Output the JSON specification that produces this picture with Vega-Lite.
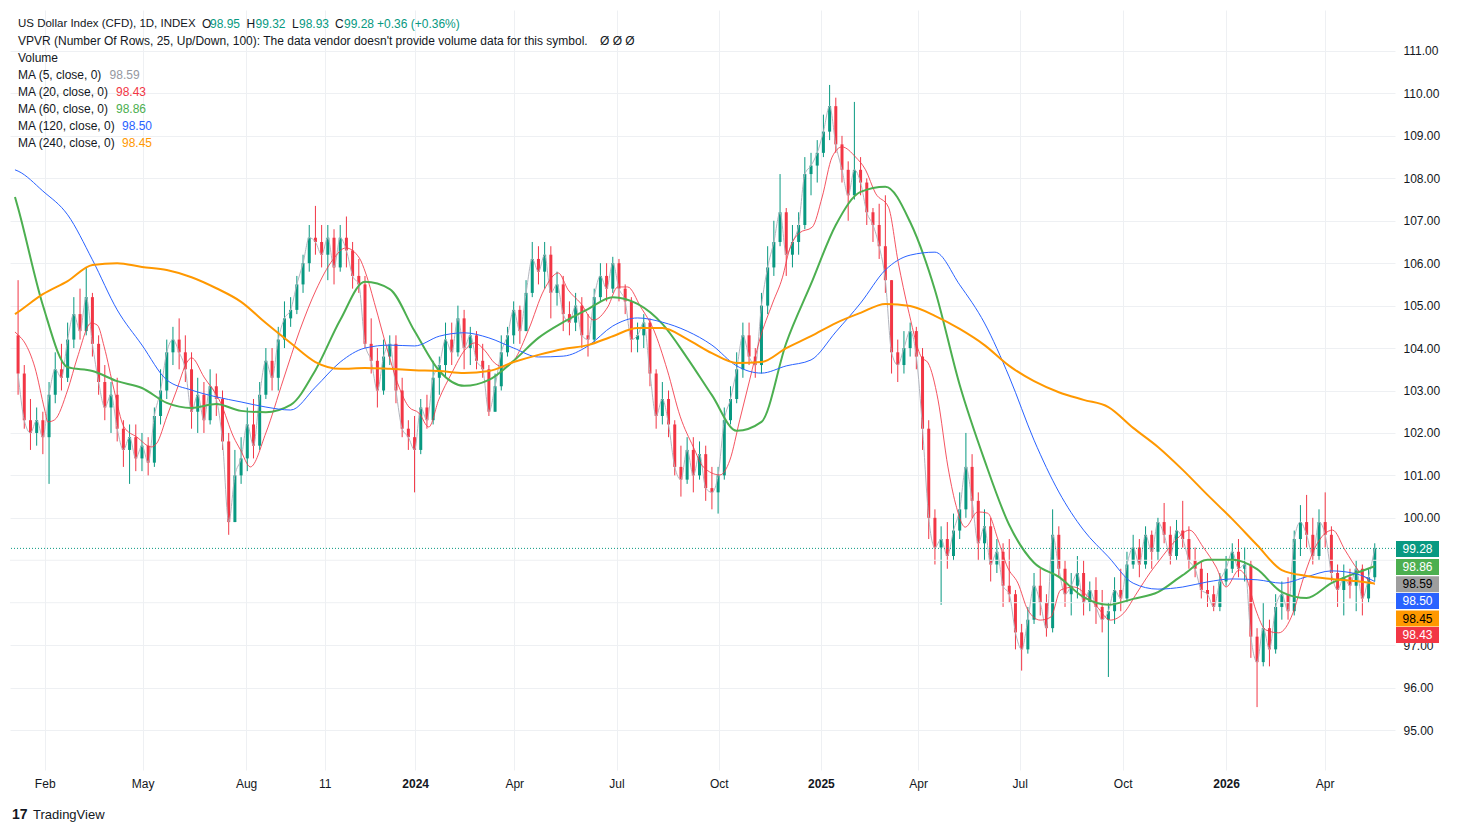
{
"$schema": "https://vega.github.io/schema/vega-lite/v6.json",
"width": 1385, "height": 760,
"autosize": "none",
"padding": {"left": 10, "top": 10, "right": 65, "bottom": 63},
"background": "#ffffff",
"config": {"view": {"stroke": null}, "font": "Liberation Sans"},
"datasets": {
"c": [
{"k":0,"o":104.3,"h":105.6,"l":102.9,"c":103.4},{"k":1,"o":103.4,"h":103.6,"l":102.1,"c":102.3},{"k":2,"o":102.3,"h":102.8,"l":101.6,"c":102.0},{"k":3,"o":102.0,"h":102.6,"l":101.7,"c":102.3},{"k":4,"o":102.3,"h":102.5,"l":101.5,"c":101.9},{"k":5,"o":101.9,"h":103.2,"l":100.8,"c":102.9},{"k":6,"o":102.9,"h":103.9,"l":102.7,"c":103.5},{"k":7,"o":103.5,"h":104.1,"l":103.0,"c":103.3},{"k":8,"o":103.3,"h":104.6,"l":103.2,"c":104.2},{"k":9,"o":104.2,"h":105.2,"l":104.0,"c":104.8},
{"k":10,"o":104.8,"h":105.4,"l":104.2,"c":104.4},{"k":11,"o":104.4,"h":105.9,"l":104.3,"c":105.2},{"k":12,"o":105.2,"h":105.3,"l":103.8,"c":104.1},{"k":13,"o":104.1,"h":104.3,"l":102.9,"c":103.2},{"k":14,"o":103.2,"h":103.6,"l":102.3,"c":102.6},{"k":15,"o":102.6,"h":103.2,"l":102.0,"c":102.9},{"k":16,"o":102.9,"h":103.3,"l":101.8,"c":102.1},{"k":17,"o":102.1,"h":102.3,"l":101.2,"c":101.6},{"k":18,"o":101.6,"h":102.2,"l":100.8,"c":101.9},{"k":19,"o":101.9,"h":102.2,"l":101.1,"c":101.4},
{"k":20,"o":101.4,"h":102.0,"l":101.1,"c":101.7},{"k":21,"o":101.7,"h":101.9,"l":101.0,"c":101.3},{"k":22,"o":101.3,"h":102.6,"l":101.2,"c":102.4},{"k":23,"o":102.4,"h":103.5,"l":102.2,"c":103.0},{"k":24,"o":103.0,"h":104.2,"l":102.8,"c":103.9},{"k":25,"o":103.9,"h":104.5,"l":103.6,"c":104.2},{"k":26,"o":104.2,"h":104.7,"l":103.5,"c":103.9},{"k":27,"o":103.9,"h":104.3,"l":103.2,"c":103.5},{"k":28,"o":103.5,"h":103.9,"l":102.1,"c":102.5},{"k":29,"o":102.5,"h":103.3,"l":102.0,"c":102.9},
{"k":30,"o":102.9,"h":103.2,"l":102.0,"c":102.3},{"k":31,"o":102.3,"h":103.5,"l":102.2,"c":103.1},{"k":32,"o":103.1,"h":103.4,"l":102.4,"c":102.8},{"k":33,"o":102.8,"h":103.0,"l":101.6,"c":101.8},{"k":34,"o":101.8,"h":102.0,"l":99.6,"c":99.9},{"k":35,"o":99.9,"h":101.6,"l":99.9,"c":101.0},{"k":36,"o":101.0,"h":101.9,"l":100.8,"c":101.4},{"k":37,"o":101.4,"h":102.6,"l":101.1,"c":102.2},{"k":38,"o":102.2,"h":102.8,"l":101.4,"c":101.7},{"k":39,"o":101.7,"h":103.2,"l":101.6,"c":102.9},
{"k":40,"o":102.9,"h":104.0,"l":102.8,"c":103.7},{"k":41,"o":103.7,"h":104.0,"l":103.0,"c":103.3},{"k":42,"o":103.3,"h":104.5,"l":103.0,"c":104.2},{"k":43,"o":104.2,"h":105.1,"l":104.0,"c":104.7},{"k":44,"o":104.7,"h":105.2,"l":104.5,"c":104.9},{"k":45,"o":104.9,"h":105.7,"l":104.8,"c":105.5},{"k":46,"o":105.5,"h":106.2,"l":105.3,"c":106.0},{"k":47,"o":106.0,"h":106.9,"l":105.8,"c":106.6},{"k":48,"o":106.6,"h":107.35,"l":106.2,"c":106.5},{"k":49,"o":106.5,"h":106.9,"l":105.9,"c":106.2},
{"k":50,"o":106.2,"h":106.9,"l":105.6,"c":106.6},{"k":51,"o":106.6,"h":106.8,"l":105.5,"c":105.9},{"k":52,"o":105.9,"h":106.9,"l":105.8,"c":106.6},{"k":53,"o":106.6,"h":107.1,"l":105.9,"c":106.3},{"k":54,"o":106.3,"h":106.5,"l":105.4,"c":105.7},{"k":55,"o":105.7,"h":106.1,"l":105.3,"c":105.5},{"k":56,"o":105.5,"h":105.7,"l":104.0,"c":104.1},{"k":57,"o":104.1,"h":104.7,"l":103.4,"c":103.7},{"k":58,"o":103.7,"h":104.0,"l":102.6,"c":103.0},{"k":59,"o":103.0,"h":104.2,"l":102.9,"c":103.8},
{"k":60,"o":103.8,"h":104.3,"l":103.6,"c":104.1},{"k":61,"o":104.1,"h":104.3,"l":102.7,"c":103.0},{"k":62,"o":103.0,"h":103.3,"l":101.9,"c":102.1},{"k":63,"o":102.1,"h":102.3,"l":101.6,"c":101.9},{"k":64,"o":101.9,"h":102.4,"l":100.6,"c":101.6},{"k":65,"o":101.6,"h":102.8,"l":101.5,"c":102.6},{"k":66,"o":102.6,"h":102.9,"l":102.1,"c":102.3},{"k":67,"o":102.3,"h":103.7,"l":102.2,"c":103.3},{"k":68,"o":103.3,"h":103.8,"l":102.9,"c":103.6},{"k":69,"o":103.6,"h":104.6,"l":103.3,"c":104.2},
{"k":70,"o":104.2,"h":104.6,"l":103.6,"c":103.9},{"k":71,"o":103.9,"h":105.0,"l":103.8,"c":104.7},{"k":72,"o":104.7,"h":104.9,"l":103.5,"c":104.0},{"k":73,"o":104.0,"h":104.5,"l":103.6,"c":104.3},{"k":74,"o":104.3,"h":104.4,"l":103.5,"c":103.7},{"k":75,"o":103.7,"h":104.1,"l":103.3,"c":103.5},{"k":76,"o":103.5,"h":103.6,"l":102.4,"c":102.5},{"k":77,"o":102.5,"h":103.4,"l":102.5,"c":103.1},{"k":78,"o":103.1,"h":104.3,"l":103.0,"c":103.9},{"k":79,"o":103.9,"h":104.5,"l":103.8,"c":104.3},
{"k":80,"o":104.3,"h":105.1,"l":104.1,"c":104.9},{"k":81,"o":104.9,"h":105.0,"l":104.1,"c":104.4},{"k":82,"o":104.4,"h":105.6,"l":104.4,"c":105.3},{"k":83,"o":105.3,"h":106.5,"l":105.2,"c":106.1},{"k":84,"o":106.1,"h":106.4,"l":105.5,"c":105.8},{"k":85,"o":105.8,"h":106.5,"l":105.4,"c":106.2},{"k":86,"o":106.2,"h":106.4,"l":104.7,"c":105.3},{"k":87,"o":105.3,"h":105.8,"l":105.0,"c":105.5},{"k":88,"o":105.5,"h":105.7,"l":104.4,"c":104.8},{"k":89,"o":104.8,"h":105.1,"l":104.3,"c":104.6},
{"k":90,"o":104.6,"h":105.3,"l":104.4,"c":105.0},{"k":91,"o":105.0,"h":105.2,"l":104.0,"c":104.3},{"k":92,"o":104.3,"h":104.8,"l":103.8,"c":104.2},{"k":93,"o":104.2,"h":105.4,"l":104.1,"c":105.2},{"k":94,"o":105.2,"h":106.0,"l":105.1,"c":105.7},{"k":95,"o":105.7,"h":106.0,"l":105.1,"c":105.4},{"k":96,"o":105.4,"h":106.15,"l":105.3,"c":106.0},{"k":97,"o":106.0,"h":106.1,"l":105.1,"c":105.4},{"k":98,"o":105.4,"h":105.5,"l":104.8,"c":105.1},{"k":99,"o":105.1,"h":105.2,"l":103.9,"c":104.2},
{"k":100,"o":104.2,"h":104.6,"l":103.9,"c":104.3},{"k":101,"o":104.3,"h":104.8,"l":104.0,"c":104.6},{"k":102,"o":104.6,"h":104.7,"l":103.1,"c":103.4},{"k":103,"o":103.4,"h":103.5,"l":102.1,"c":102.4},{"k":104,"o":102.4,"h":103.2,"l":102.2,"c":102.8},{"k":105,"o":102.8,"h":103.0,"l":101.9,"c":102.2},{"k":106,"o":102.2,"h":102.3,"l":101.0,"c":101.2},{"k":107,"o":101.2,"h":101.7,"l":100.5,"c":100.9},{"k":108,"o":100.9,"h":101.9,"l":100.8,"c":101.6},{"k":109,"o":101.6,"h":101.9,"l":100.6,"c":101.0},
{"k":110,"o":101.0,"h":101.8,"l":100.9,"c":101.5},{"k":111,"o":101.5,"h":101.7,"l":100.4,"c":100.7},{"k":112,"o":100.7,"h":101.2,"l":100.2,"c":100.6},{"k":113,"o":100.6,"h":101.2,"l":100.1,"c":101.0},{"k":114,"o":101.0,"h":102.6,"l":100.9,"c":102.3},{"k":115,"o":102.3,"h":103.1,"l":102.2,"c":102.8},{"k":116,"o":102.8,"h":103.9,"l":102.7,"c":103.5},{"k":117,"o":103.5,"h":104.6,"l":103.3,"c":104.3},{"k":118,"o":104.3,"h":104.6,"l":103.6,"c":103.8},{"k":119,"o":103.8,"h":104.0,"l":103.3,"c":103.6},
{"k":120,"o":103.6,"h":105.3,"l":103.4,"c":105.0},{"k":121,"o":105.0,"h":106.4,"l":104.8,"c":105.9},{"k":122,"o":105.9,"h":107.0,"l":105.7,"c":106.5},{"k":123,"o":106.5,"h":108.1,"l":106.4,"c":107.2},{"k":124,"o":107.2,"h":107.3,"l":105.7,"c":106.2},{"k":125,"o":106.2,"h":106.9,"l":105.9,"c":106.5},{"k":126,"o":106.5,"h":107.2,"l":106.2,"c":106.9},{"k":127,"o":106.9,"h":108.5,"l":106.8,"c":108.1},{"k":128,"o":108.1,"h":108.6,"l":107.6,"c":108.3},{"k":129,"o":108.3,"h":108.9,"l":107.9,"c":108.6},
{"k":130,"o":108.6,"h":109.5,"l":108.5,"c":109.1},{"k":131,"o":109.1,"h":110.2,"l":108.9,"c":109.7},{"k":132,"o":109.7,"h":109.9,"l":108.6,"c":108.8},{"k":133,"o":108.8,"h":109.0,"l":107.9,"c":108.2},{"k":134,"o":108.2,"h":108.4,"l":107.0,"c":107.6},{"k":135,"o":107.6,"h":109.8,"l":107.5,"c":108.2},{"k":136,"o":108.2,"h":108.5,"l":107.6,"c":107.9},{"k":137,"o":107.9,"h":108.0,"l":106.9,"c":107.2},{"k":138,"o":107.2,"h":107.3,"l":106.5,"c":106.9},{"k":139,"o":106.9,"h":107.4,"l":106.1,"c":106.4},
{"k":140,"o":106.4,"h":107.6,"l":105.3,"c":105.6},{"k":141,"o":105.6,"h":105.6,"l":103.4,"c":103.9},{"k":142,"o":103.9,"h":104.2,"l":103.2,"c":103.6},{"k":143,"o":103.6,"h":104.4,"l":103.4,"c":104.0},{"k":144,"o":104.0,"h":104.6,"l":103.8,"c":104.4},{"k":145,"o":104.4,"h":104.5,"l":103.5,"c":103.8},{"k":146,"o":103.8,"h":104.0,"l":101.6,"c":102.1},{"k":147,"o":102.1,"h":102.3,"l":99.5,"c":100.0},{"k":148,"o":100.0,"h":100.2,"l":98.9,"c":99.3},{"k":149,"o":99.3,"h":99.8,"l":97.95,"c":99.5},
{"k":150,"o":99.5,"h":99.9,"l":98.8,"c":99.1},{"k":151,"o":99.1,"h":100.1,"l":99.0,"c":99.7},{"k":152,"o":99.7,"h":100.6,"l":99.5,"c":100.2},{"k":153,"o":100.2,"h":102.0,"l":100.0,"c":101.2},{"k":154,"o":101.2,"h":101.5,"l":100.0,"c":100.4},{"k":155,"o":100.4,"h":100.6,"l":99.0,"c":99.4},{"k":156,"o":99.4,"h":100.2,"l":99.0,"c":99.8},{"k":157,"o":99.8,"h":100.0,"l":98.5,"c":98.9},{"k":158,"o":98.9,"h":99.5,"l":98.7,"c":99.2},{"k":159,"o":99.2,"h":99.4,"l":97.9,"c":98.4},
{"k":160,"o":98.4,"h":99.5,"l":98.0,"c":98.2},{"k":161,"o":98.2,"h":98.3,"l":96.9,"c":97.3},{"k":162,"o":97.3,"h":97.5,"l":96.4,"c":96.9},{"k":163,"o":96.9,"h":97.9,"l":96.8,"c":97.6},{"k":164,"o":97.6,"h":98.7,"l":97.5,"c":98.4},{"k":165,"o":98.4,"h":98.8,"l":97.7,"c":98.0},{"k":166,"o":98.0,"h":98.2,"l":97.2,"c":97.4},{"k":167,"o":97.4,"h":100.2,"l":97.3,"c":99.6},{"k":168,"o":99.6,"h":99.8,"l":98.6,"c":98.8},{"k":169,"o":98.8,"h":99.0,"l":97.9,"c":98.2},
{"k":170,"o":98.2,"h":98.7,"l":97.7,"c":98.4},{"k":171,"o":98.4,"h":99.1,"l":98.1,"c":98.7},{"k":172,"o":98.7,"h":99.0,"l":97.7,"c":98.0},{"k":173,"o":98.0,"h":98.5,"l":97.8,"c":98.3},{"k":174,"o":98.3,"h":98.6,"l":97.5,"c":97.9},{"k":175,"o":97.9,"h":98.3,"l":97.3,"c":97.6},{"k":176,"o":97.6,"h":98.0,"l":96.25,"c":97.8},{"k":177,"o":97.8,"h":98.6,"l":97.5,"c":98.3},{"k":178,"o":98.3,"h":98.8,"l":97.8,"c":98.1},{"k":179,"o":98.1,"h":99.2,"l":98.0,"c":98.9},
{"k":180,"o":98.9,"h":99.6,"l":98.8,"c":99.3},{"k":181,"o":99.3,"h":99.5,"l":98.6,"c":98.9},{"k":182,"o":98.9,"h":99.8,"l":98.8,"c":99.6},{"k":183,"o":99.6,"h":99.7,"l":98.8,"c":99.2},{"k":184,"o":99.2,"h":100.0,"l":99.0,"c":99.9},{"k":185,"o":99.9,"h":100.35,"l":99.4,"c":99.6},{"k":186,"o":99.6,"h":99.8,"l":98.9,"c":99.1},{"k":187,"o":99.1,"h":99.95,"l":99.0,"c":99.7},{"k":188,"o":99.7,"h":100.4,"l":99.3,"c":99.5},{"k":189,"o":99.5,"h":99.8,"l":98.8,"c":99.0},
{"k":190,"o":99.0,"h":99.3,"l":98.6,"c":98.8},{"k":191,"o":98.8,"h":99.0,"l":98.1,"c":98.3},{"k":192,"o":98.3,"h":98.7,"l":97.9,"c":98.2},{"k":193,"o":98.2,"h":98.4,"l":97.8,"c":97.9},{"k":194,"o":97.9,"h":98.7,"l":97.8,"c":98.5},{"k":195,"o":98.5,"h":99.1,"l":98.4,"c":98.8},{"k":196,"o":98.8,"h":99.4,"l":98.7,"c":99.2},{"k":197,"o":99.2,"h":99.5,"l":98.6,"c":98.8},{"k":198,"o":98.8,"h":99.3,"l":98.5,"c":98.9},{"k":199,"o":98.9,"h":99.0,"l":96.7,"c":97.2},
{"k":200,"o":97.2,"h":97.4,"l":95.54,"c":96.6},{"k":201,"o":96.6,"h":98.0,"l":96.5,"c":97.4},{"k":202,"o":97.4,"h":97.6,"l":96.5,"c":96.9},{"k":203,"o":96.9,"h":98.2,"l":96.8,"c":97.9},{"k":204,"o":97.9,"h":98.5,"l":97.6,"c":98.2},{"k":205,"o":98.2,"h":98.6,"l":97.6,"c":97.8},{"k":206,"o":97.8,"h":99.7,"l":97.7,"c":99.5},{"k":207,"o":99.5,"h":100.3,"l":99.1,"c":99.9},{"k":208,"o":99.9,"h":100.54,"l":99.3,"c":99.6},{"k":209,"o":99.6,"h":100.0,"l":98.9,"c":99.1},
{"k":210,"o":99.1,"h":100.2,"l":99.0,"c":99.9},{"k":211,"o":99.9,"h":100.6,"l":99.3,"c":99.6},{"k":212,"o":99.6,"h":99.8,"l":98.5,"c":98.7},{"k":213,"o":98.7,"h":98.9,"l":97.9,"c":98.3},{"k":214,"o":98.3,"h":98.9,"l":97.7,"c":98.6},{"k":215,"o":98.6,"h":98.8,"l":98.1,"c":98.4},{"k":216,"o":98.4,"h":99.0,"l":97.8,"c":98.8},{"k":217,"o":98.8,"h":98.9,"l":97.7,"c":98.1},{"k":218,"o":98.1,"h":98.8,"l":98.0,"c":98.6},{"k":219,"o":98.6,"h":99.4,"l":98.5,"c":99.28}
],
"m20": [
{"k":-0.5,"v":104.38},{"k":0,"v":104.31},{"k":1.1,"v":104.12},{"k":2.7,"v":103.55},{"k":4.3,"v":102.54},{"k":4.8,"v":102.26},{"k":5.9,"v":102.31},{"k":8,"v":103.01},{"k":9.6,"v":103.79},{"k":11.8,"v":104.59},{"k":12.8,"v":104.54},{"k":13.9,"v":104.03},{"k":15.5,"v":103.01},{"k":17.1,"v":102.14},{"k":19.2,"v":101.9},{"k":21.5,"v":101.67},{"k":22.4,"v":101.76},{"k":24,"v":102.38},{"k":25.6,"v":103.01},{"k":27.2,"v":103.65},{"k":28,"v":103.77},{"k":30,"v":103.32},{"k":32.7,"v":102.71},{"k":34.8,"v":101.9},{"k":35.9,"v":101.6},{"k":37.5,"v":101.2},{"k":40,"v":102.0},{"k":42.8,"v":103.25},{"k":45.5,"v":104.43},{"k":48.1,"v":105.37},{"k":50.8,"v":106.08},{"k":52.9,"v":106.36},{"k":55.1,"v":106.12},{"k":56.1,"v":105.77},{"k":57.7,"v":104.97},{"k":59.3,"v":104.12},{"k":61.5,"v":103.08},{"k":63.1,"v":102.61},{"k":64.7,"v":102.47},{"k":66.3,"v":102.14},{"k":67.9,"v":102.78},{"k":70,"v":103.41},{"k":72.1,"v":103.95},{"k":73.7,"v":104.12},{"k":75.3,"v":103.95},{"k":76.9,"v":103.65},{"k":78.5,"v":103.55},{"k":80.1,"v":103.72},{"k":82.4,"v":104.43},{"k":84.9,"v":105.37},{"k":87.2,"v":105.77},{"k":88.8,"v":105.37},{"k":90.8,"v":105.06},{"k":92.9,"v":104.66},{"k":95.2,"v":104.97},{"k":96.8,"v":105.44},{"k":98.4,"v":105.44},{"k":100.5,"v":104.97},{"k":102.6,"v":104.43},{"k":104.8,"v":103.48},{"k":106.9,"v":102.38},{"k":109,"v":101.67},{"k":110.6,"v":101.2},{"k":113.3,"v":101.01},{"k":114.9,"v":101.36},{"k":116.5,"v":102.31},{"k":118.1,"v":103.25},{"k":119.7,"v":104.19},{"k":121.8,"v":105.06},{"k":123.4,"v":105.67},{"k":124.5,"v":106.31},{"k":126.1,"v":106.71},{"k":128.2,"v":106.85},{"k":129.8,"v":107.56},{"k":131.4,"v":108.5},{"k":133,"v":108.74},{"k":135.2,"v":108.5},{"k":136.8,"v":108.2},{"k":138.4,"v":107.65},{"k":140.5,"v":107.32},{"k":142.1,"v":106.0},{"k":143.7,"v":104.9},{"k":145.8,"v":103.79},{"k":146.9,"v":103.65},{"k":148.5,"v":102.78},{"k":150.1,"v":101.2},{"k":151.3,"v":100.35},{"k":152.9,"v":99.78},{"k":154.9,"v":100.14},{"k":156.5,"v":100.11},{"k":158.2,"v":99.48},{"k":159.7,"v":98.84},{"k":161.4,"v":98.46},{"k":163,"v":97.83},{"k":165,"v":97.59},{"k":166.7,"v":97.66},{"k":168.3,"v":98.3},{"k":170.5,"v":98.37},{"k":172.1,"v":98.23},{"k":174.2,"v":97.9},{"k":176.3,"v":97.59},{"k":178.5,"v":97.76},{"k":180.6,"v":98.23},{"k":182.7,"v":98.7},{"k":184.3,"v":99.01},{"k":186.5,"v":99.41},{"k":189.1,"v":99.71},{"k":191.3,"v":99.31},{"k":193.4,"v":98.84},{"k":195,"v":98.37},{"k":197.1,"v":98.77},{"k":198.2,"v":98.61},{"k":199.8,"v":97.83},{"k":201.4,"v":97.36},{"k":203.5,"v":97.29},{"k":205.8,"v":97.76},{"k":207.4,"v":98.54},{"k":209.4,"v":99.31},{"k":212.2,"v":99.71},{"k":214.2,"v":99.24},{"k":216.3,"v":98.77},{"k":219,"v":98.43}
],
"ma": [
{"k":-0.5,"g":107.56,"b":108.2,"o":104.8},{"k":0,"g":107.3,"b":108.17,"o":104.85},{"k":4,"g":105.01,"b":107.7,"o":105.27},{"k":8,"g":103.55,"b":107.14,"o":105.58},{"k":12,"g":103.46,"b":106.08,"o":105.96},{"k":16,"g":103.22,"b":104.9,"o":106.0},{"k":20,"g":103.06,"b":104.07,"o":105.91},{"k":24,"g":102.71,"b":103.25,"o":105.84},{"k":28,"g":102.59,"b":103.01,"o":105.67},{"k":32,"g":102.68,"b":102.85,"o":105.41},{"k":36,"g":102.52,"b":102.73,"o":105.09},{"k":40,"g":102.49,"b":102.61,"o":104.59},{"k":44,"g":102.66,"b":102.54,"o":104.12},{"k":48,"g":103.48,"b":103.08,"o":103.67},{"k":52,"g":104.66,"b":103.67,"o":103.51},{"k":56,"g":105.56,"b":104.0,"o":103.53},{"k":60,"g":105.39,"b":104.07,"o":103.51},{"k":64,"g":104.4,"b":104.05,"o":103.48},{"k":68,"g":103.46,"b":104.28,"o":103.46},{"k":72,"g":103.11,"b":104.36,"o":103.41},{"k":76,"g":103.25,"b":104.24,"o":103.46},{"k":80,"g":103.7,"b":104.0,"o":103.67},{"k":84,"g":104.24,"b":103.79,"o":103.84},{"k":88,"g":104.61,"b":103.81,"o":103.98},{"k":92,"g":104.92,"b":104.05,"o":104.07},{"k":96,"g":105.2,"b":104.52,"o":104.28},{"k":100,"g":105.04,"b":104.71,"o":104.47},{"k":104,"g":104.57,"b":104.61,"o":104.47},{"k":108,"g":103.77,"b":104.4,"o":104.21},{"k":112,"g":102.89,"b":104.07,"o":103.88},{"k":116,"g":102.05,"b":103.58,"o":103.65},{"k":120,"g":102.26,"b":103.41,"o":103.67},{"k":124,"g":104.12,"b":103.58,"o":104.0},{"k":128,"g":105.51,"b":103.72,"o":104.28},{"k":132,"g":106.9,"b":104.38,"o":104.59},{"k":136,"g":107.68,"b":105.06,"o":104.83},{"k":140,"g":107.8,"b":105.84,"o":105.04},{"k":144,"g":106.97,"b":106.19,"o":104.99},{"k":148,"g":105.37,"b":106.26,"o":104.76},{"k":152,"g":103.13,"b":105.49,"o":104.45},{"k":156,"g":101.36,"b":104.59,"o":104.07},{"k":160,"g":99.83,"b":103.32,"o":103.58},{"k":164,"g":98.94,"b":101.83,"o":103.22},{"k":168,"g":98.61,"b":100.61,"o":102.96},{"k":172,"g":98.13,"b":99.71,"o":102.78},{"k":176,"g":97.95,"b":99.08,"o":102.61},{"k":180,"g":98.09,"b":98.46,"o":102.12},{"k":184,"g":98.25,"b":98.32,"o":101.67},{"k":188,"g":98.65,"b":98.37,"o":101.13},{"k":192,"g":99.01,"b":98.49,"o":100.54},{"k":196,"g":99.01,"b":98.56,"o":99.97},{"k":200,"g":98.79,"b":98.54,"o":99.36},{"k":204,"g":98.25,"b":98.46,"o":98.77},{"k":208,"g":98.11,"b":98.61,"o":98.63},{"k":212,"g":98.46,"b":98.75,"o":98.56},{"k":216,"g":98.7,"b":98.68,"o":98.51},{"k":219,"g":98.86,"b":98.5,"o":98.45}
],
"tag": [
{"s":"close","v":99.28},{"s":"ma60","v":98.86},{"s":"ma5","v":98.59},{"s":"ma120","v":98.50},{"s":"ma240","v":98.45},{"s":"ma20","v":98.43}
]
},
"layer": [
{"data":{"name":"c"},"mark":{"type":"rule","strokeWidth":1},
 "encoding":{
  "x":{"field":"k","type":"quantitative","title":null,"scale":{"domain":[-0.497,221.46],"nice":false,"zero":false},
   "axis":{"orient":"bottom","values":[4.3,20.1,36.8,49.5,64.1,80.1,96.6,113.1,129.6,145.3,161.7,178.3,195,210.9],
    "labelExpr":"['Feb','May','Aug','11','2024','Apr','Jul','Oct','2025','Apr','Jul','Oct','2026','Apr'][indexof([4.3,20.1,36.8,49.5,64.1,80.1,96.6,113.1,129.6,145.3,161.7,178.3,195,210.9], datum.value)]",
    "labelFontWeight":{"condition":{"test":"datum.value == 64.1 || datum.value == 129.6 || datum.value == 195","value":"bold"},"value":"normal"},
    "grid":true,"gridColor":"#eef0f3","ticks":false,"domain":false,"labelPadding":8,"labelFontSize":12,"labelColor":"#131722","labelOverlap":false,"labelFlush":false,"labelBound":false,"title":null}},
  "y":{"field":"l","type":"quantitative","title":null,"scale":{"domain":[94.058,111.966],"nice":false,"zero":false},
   "axis":{"orient":"right","values":[95,96,97,100,101,102,103,104,105,106,107,108,109,110,111],"format":".2f","grid":true,"gridColor":"#eef0f3","ticks":false,"domain":false,"labelPadding":8,"labelFontSize":12,"labelColor":"#131722","labelOverlap":false,"title":null}},
  "y2":{"field":"h"},
  "color":{"condition":{"test":"datum.c >= datum.o","value":"#089981"},"value":"#F23645"}
 }},
{"data":{"name":"c"},"mark":{"type":"bar","width":3},
 "encoding":{
  "x":{"field":"k","type":"quantitative","title":null},
  "y":{"field":"o","type":"quantitative","title":null},
  "y2":{"field":"c"},
  "color":{"condition":{"test":"datum.c >= datum.o","value":"#089981"},"value":"#F23645"}
 }},
{"data":{"values":[{"v":98},{"v":99}]},"mark":{"type":"rule","color":"#eef0f3","strokeWidth":1},
 "encoding":{"y":{"field":"v","type":"quantitative","title":null}}},
{"data":{"name":"c"},"mark":{"type":"line","color":"#b2b5be","strokeWidth":1,"interpolate":"monotone"},
 "encoding":{"x":{"field":"k","type":"quantitative","title":null},"y":{"field":"c","type":"quantitative","title":null}}},
{"data":{"name":"m20"},"mark":{"type":"line","color":"#F23645","strokeWidth":1,"opacity":0.85,"interpolate":"monotone"},
 "encoding":{"x":{"field":"k","type":"quantitative","title":null},"y":{"field":"v","type":"quantitative","title":null}}},
{"data":{"name":"ma"},"mark":{"type":"line","color":"#4CAF50","strokeWidth":2,"interpolate":"monotone"},
 "encoding":{"x":{"field":"k","type":"quantitative","title":null},"y":{"field":"g","type":"quantitative","title":null}}},
{"data":{"name":"ma"},"mark":{"type":"line","color":"#2962FF","strokeWidth":1,"interpolate":"monotone"},
 "encoding":{"x":{"field":"k","type":"quantitative","title":null},"y":{"field":"b","type":"quantitative","title":null}}},
{"data":{"name":"ma"},"mark":{"type":"line","color":"#FF9800","strokeWidth":2,"interpolate":"monotone"},
 "encoding":{"x":{"field":"k","type":"quantitative","title":null},"y":{"field":"o","type":"quantitative","title":null}}},
{"data":{"name":"tag"},"transform":[{"filter":"datum.s == 'close'"}],"mark":{"type":"rule","color":"#089981","strokeWidth":1,"strokeDash":[1,2]},
 "encoding":{"y":{"field":"v","type":"quantitative","title":null}}},
{"data":{"name":"tag"},"transform":[{"filter":"datum.s == 'close'"}],"layer":[
 {"mark":{"type":"point","shape":"M-1,-0.372H1V0.372H-1Z","size":1849,"filled":true,"opacity":1,"strokeWidth":0,"color":"#089981","x":1407.5,"yOffset":0.6},"encoding":{"y":{"field":"v","type":"quantitative","title":null}}},
 {"mark":{"type":"text","color":"#ffffff","x":1407.5,"yOffset":0.6,"fontSize":12},"encoding":{"y":{"field":"v","type":"quantitative","title":null},"text":{"field":"v","format":".2f"}}}]},
{"data":{"name":"tag"},"transform":[{"filter":"datum.s == 'ma60'"}],"layer":[
 {"mark":{"type":"point","shape":"M-1,-0.372H1V0.372H-1Z","size":1849,"filled":true,"opacity":1,"strokeWidth":0,"color":"#4CAF50","x":1407.5,"yOffset":0.8},"encoding":{"y":{"field":"v","type":"quantitative","title":null}}},
 {"mark":{"type":"text","color":"#ffffff","x":1407.5,"yOffset":0.8,"fontSize":12},"encoding":{"y":{"field":"v","type":"quantitative","title":null},"text":{"field":"v","format":".2f"}}}]},
{"data":{"name":"tag"},"transform":[{"filter":"datum.s == 'ma5'"}],"layer":[
 {"mark":{"type":"point","shape":"M-1,-0.372H1V0.372H-1Z","size":1849,"filled":true,"opacity":1,"strokeWidth":0,"color":"#9E9E9E","x":1407.5,"yOffset":6.7},"encoding":{"y":{"field":"v","type":"quantitative","title":null}}},
 {"mark":{"type":"text","color":"#000000","x":1407.5,"yOffset":6.7,"fontSize":12},"encoding":{"y":{"field":"v","type":"quantitative","title":null},"text":{"field":"v","format":".2f"}}}]},
{"data":{"name":"tag"},"transform":[{"filter":"datum.s == 'ma120'"}],"layer":[
 {"mark":{"type":"point","shape":"M-1,-0.372H1V0.372H-1Z","size":1849,"filled":true,"opacity":1,"strokeWidth":0,"color":"#2962FF","x":1407.5,"yOffset":19.5},"encoding":{"y":{"field":"v","type":"quantitative","title":null}}},
 {"mark":{"type":"text","color":"#ffffff","x":1407.5,"yOffset":19.5,"fontSize":12},"encoding":{"y":{"field":"v","type":"quantitative","title":null},"text":{"field":"v","format":".2f"}}}]},
{"data":{"name":"tag"},"transform":[{"filter":"datum.s == 'ma240'"}],"layer":[
 {"mark":{"type":"point","shape":"M-1,-0.372H1V0.372H-1Z","size":1849,"filled":true,"opacity":1,"strokeWidth":0,"color":"#FF9800","x":1407.5,"yOffset":34.9},"encoding":{"y":{"field":"v","type":"quantitative","title":null}}},
 {"mark":{"type":"text","color":"#000000","x":1407.5,"yOffset":34.9,"fontSize":12},"encoding":{"y":{"field":"v","type":"quantitative","title":null},"text":{"field":"v","format":".2f"}}}]},
{"data":{"name":"tag"},"transform":[{"filter":"datum.s == 'ma20'"}],"layer":[
 {"mark":{"type":"point","shape":"M-1,-0.372H1V0.372H-1Z","size":1849,"filled":true,"opacity":1,"strokeWidth":0,"color":"#F23645","x":1407.5,"yOffset":50.5},"encoding":{"y":{"field":"v","type":"quantitative","title":null}}},
 {"mark":{"type":"text","color":"#ffffff","x":1407.5,"yOffset":50.5,"fontSize":12},"encoding":{"y":{"field":"v","type":"quantitative","title":null},"text":{"field":"v","format":".2f"}}}]},
{"data":{"values":[{}]},"mark":{"type":"text","text":"US Dollar Index (CFD), 1D, INDEX","x":8,"y":14,"align":"left","baseline":"middle","fontSize":11.5,"color":"#131722"},"encoding":{}},
{"data":{"values":[{}]},"mark":{"type":"text","text":"O","x":192,"y":14,"align":"left","baseline":"middle","fontSize":12,"color":"#131722"},"encoding":{}},
{"data":{"values":[{}]},"mark":{"type":"text","text":"98.95","x":200,"y":14,"align":"left","baseline":"middle","fontSize":12,"color":"#089981"},"encoding":{}},
{"data":{"values":[{}]},"mark":{"type":"text","text":"H","x":236.5,"y":14,"align":"left","baseline":"middle","fontSize":12,"color":"#131722"},"encoding":{}},
{"data":{"values":[{}]},"mark":{"type":"text","text":"99.32","x":245.5,"y":14,"align":"left","baseline":"middle","fontSize":12,"color":"#089981"},"encoding":{}},
{"data":{"values":[{}]},"mark":{"type":"text","text":"L","x":282,"y":14,"align":"left","baseline":"middle","fontSize":12,"color":"#131722"},"encoding":{}},
{"data":{"values":[{}]},"mark":{"type":"text","text":"98.93","x":289,"y":14,"align":"left","baseline":"middle","fontSize":12,"color":"#089981"},"encoding":{}},
{"data":{"values":[{}]},"mark":{"type":"text","text":"C","x":325,"y":14,"align":"left","baseline":"middle","fontSize":12,"color":"#131722"},"encoding":{}},
{"data":{"values":[{}]},"mark":{"type":"text","text":"99.28","x":334,"y":14,"align":"left","baseline":"middle","fontSize":12,"color":"#089981"},"encoding":{}},
{"data":{"values":[{}]},"mark":{"type":"text","text":"+0.36 (+0.36%)","x":367,"y":14,"align":"left","baseline":"middle","fontSize":12,"color":"#089981"},"encoding":{}},
{"data":{"values":[{}]},"mark":{"type":"text","text":"VPVR (Number Of Rows, 25, Up/Down, 100): The data vendor doesn't provide volume data for this symbol.","x":8,"y":31,"align":"left","baseline":"middle","fontSize":12,"color":"#131722"},"encoding":{}},
{"data":{"values":[{}]},"mark":{"type":"text","text":"Ø   Ø   Ø","x":590,"y":31,"align":"left","baseline":"middle","fontSize":12,"color":"#131722"},"encoding":{}},
{"data":{"values":[{}]},"mark":{"type":"text","text":"Volume","x":8,"y":48,"align":"left","baseline":"middle","fontSize":12,"color":"#131722"},"encoding":{}},
{"data":{"values":[{}]},"mark":{"type":"text","text":"MA (5, close, 0)","x":8,"y":65,"align":"left","baseline":"middle","fontSize":12,"color":"#131722"},"encoding":{}},
{"data":{"values":[{}]},"mark":{"type":"text","text":"MA (20, close, 0)","x":8,"y":82,"align":"left","baseline":"middle","fontSize":12,"color":"#131722"},"encoding":{}},
{"data":{"values":[{}]},"mark":{"type":"text","text":"MA (60, close, 0)","x":8,"y":99,"align":"left","baseline":"middle","fontSize":12,"color":"#131722"},"encoding":{}},
{"data":{"values":[{}]},"mark":{"type":"text","text":"MA (120, close, 0)","x":8,"y":116,"align":"left","baseline":"middle","fontSize":12,"color":"#131722"},"encoding":{}},
{"data":{"values":[{}]},"mark":{"type":"text","text":"MA (240, close, 0)","x":8,"y":133,"align":"left","baseline":"middle","fontSize":12,"color":"#131722"},"encoding":{}},
{"data":{"values":[{}]},"mark":{"type":"text","text":"98.59","x":99.6,"y":65,"align":"left","baseline":"middle","fontSize":12,"color":"#9598a1"},"encoding":{}},
{"data":{"values":[{}]},"mark":{"type":"text","text":"98.43","x":106,"y":82,"align":"left","baseline":"middle","fontSize":12,"color":"#F23645"},"encoding":{}},
{"data":{"values":[{}]},"mark":{"type":"text","text":"98.86","x":106,"y":99,"align":"left","baseline":"middle","fontSize":12,"color":"#4CAF50"},"encoding":{}},
{"data":{"values":[{}]},"mark":{"type":"text","text":"98.50","x":112,"y":116,"align":"left","baseline":"middle","fontSize":12,"color":"#2962FF"},"encoding":{}},
{"data":{"values":[{}]},"mark":{"type":"text","text":"98.45","x":112,"y":133,"align":"left","baseline":"middle","fontSize":12,"color":"#FF9800"},"encoding":{}},
{"data":{"values":[{}]},"mark":{"type":"text","text":"17","x":2,"y":805,"align":"left","baseline":"middle","fontSize":14,"fontWeight":"bold","color":"#131722"},"encoding":{}},
{"data":{"values":[{}]},"mark":{"type":"text","text":"TradingView","x":23,"y":805,"align":"left","baseline":"middle","fontSize":13,"color":"#131722"},"encoding":{}}
]
}
